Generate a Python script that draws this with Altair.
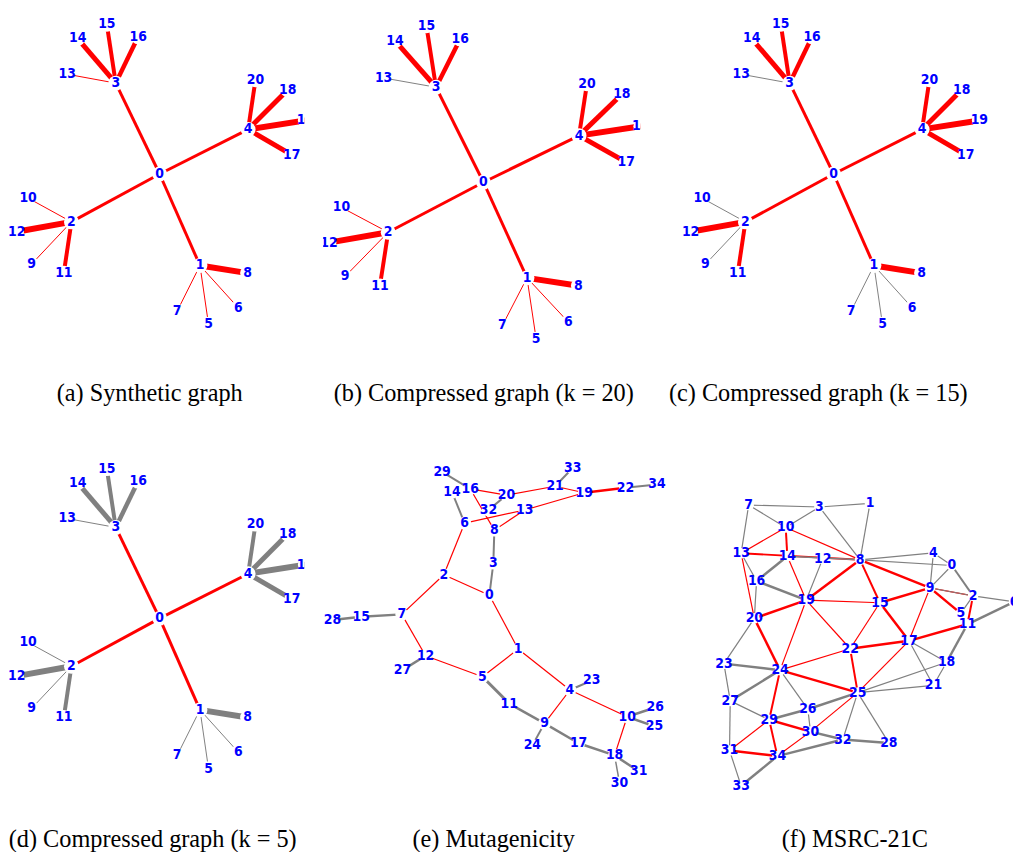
import altair as alt
import pandas as pd

# ---------------- data ----------------
# synthetic tree layout (relative to node 0, y grows downward)
TREE_X = [0, 40.7, -89, -44.3, 89.3, 49.3, 79.3, 17.7, 88.7, -129.3, -132.7,
          -96.7, -144.3, -93.3, -82.7, -53.3, -21.7, 133.3, 129.3, 147, 96.7]
TREE_Y = [0, 92.3, 48.3, -91.7, -45, 151.6, 135, 138.3, 100, 91, 24.3,
          100, 58.3, -100.7, -136.7, -151, -138.4, -19.4, -85, -54, -95]
TREE_EDGES = [(0, 1), (0, 2), (0, 3), (0, 4), (3, 13), (3, 14), (3, 15), (3, 16),
              (4, 20), (4, 18), (4, 19), (4, 17), (2, 10), (2, 12), (2, 9), (2, 11),
              (1, 8), (1, 7), (1, 5), (1, 6)]
TREE_W = [3, 3, 3, 3, 1, 5, 4, 4.5, 4, 5, 6, 5, 1, 6, 1, 4, 6, 1, 1, 1]
B_GRAY = [(3, 13)]
C_GRAY = [(3, 13), (2, 10), (2, 9), (1, 7), (1, 5), (1, 6)]
D_RED = [(0, 1), (0, 2), (0, 3), (0, 4)]

# Mutagenicity molecule layout
E_X = [492.7, 521.7, 446.7, 496.7, 574, 485.7, 467.7, 404.3, 497.7, 548.3, 631.7,
       512.7, 428.3, 528.3, 455, 363.3, 473.3, 582.7, 619, 588.3, 510, 559, 630,
       596, 536, 659.3, 660, 405, 334.3, 445, 624, 643.3, 491.7, 576.7, 661.7]
E_Y = [596.7, 651, 576, 564.3, 692.3, 679, 524, 616, 531, 726, 719.3,
       706, 657.7, 510.7, 492.7, 618.3, 489.3, 746, 758.3, 493.3, 495.7, 486.7, 488.3,
       682.7, 748.3, 729, 710, 672.3, 621.7, 472.3, 786, 774.3, 510.7, 468.3, 485]
E_GRAY = [(29, 16, 2), (14, 6, 2), (20, 32, 2), (21, 33, 2), (22, 34, 2), (8, 3, 2),
          (3, 0, 2), (7, 15, 2.5), (15, 28, 2.5), (12, 27, 2.5), (5, 11, 3), (11, 9, 2.5),
          (9, 24, 2), (9, 17, 2.5), (17, 18, 2.5), (18, 31, 2.5), (18, 30, 1.5),
          (10, 26, 2.5), (10, 25, 2.5), (4, 23, 2)]
E_RED = [(16, 20, 1.2), (20, 21, 1.2), (21, 19, 1.2), (19, 13, 1.2), (6, 13, 1.2),
         (8, 13, 1.2), (16, 8, 1.2), (6, 2, 1.2), (2, 0, 1.2), (2, 7, 1.2), (7, 12, 1.2),
         (12, 5, 1.2), (5, 1, 1.2), (0, 1, 1.2), (1, 4, 1.2), (4, 10, 1.2), (4, 9, 1.2),
         (10, 18, 1.2), (19, 22, 2.5)]

# MSRC-21C superpixel graph layout
F_X = [959.3, 876.7, 980.7, 825.7, 940.7, 968.3, 1022, 754.3, 866.7, 937.3, 791.7,
       975, 829, 746.7, 793.3, 886.7, 762.3, 916, 954, 812.3, 760, 940.7, 856.7,
       729.3, 786, 864.3, 814, 735.7, 895.7, 775, 816.7, 735, 849.3, 746.7, 783.3]
F_Y = [566.7, 504, 597.3, 507.7, 554, 615, 603.3, 505.7, 561, 589.3, 528.3,
       626, 560, 554.3, 557.3, 604.3, 582.3, 642.7, 664.3, 601.7, 620, 687.7, 650.7,
       665.7, 672.3, 695, 711.7, 703.3, 745.7, 722.3, 734.3, 753.3, 742.3, 789, 759]
F_GRAY = [(7, 3, 1.2), (3, 1, 1.2), (7, 10, 1.2), (3, 10, 1.2), (3, 8, 1.2), (1, 8, 1.2),
          (7, 13, 1.2), (13, 16, 1.2), (12, 19, 1.2), (16, 20, 1.2), (8, 4, 1.2),
          (8, 0, 1.2), (4, 0, 1.2), (4, 9, 1.2), (0, 9, 1.2), (2, 6, 1.2), (2, 5, 1.2),
          (18, 21, 1.2), (17, 18, 1.2), (17, 21, 1.2), (18, 25, 1.2), (21, 25, 1.2),
          (20, 23, 1.2), (23, 27, 1.2), (24, 26, 1.2), (27, 29, 1.2), (27, 31, 1.2),
          (26, 30, 1.2), (25, 32, 1.2), (25, 28, 1.2), (31, 33, 1.2),
          (0, 2, 2), (11, 6, 2.5), (11, 18, 2.5), (23, 24, 2.5), (24, 27, 2.5),
          (26, 25, 2.5), (29, 26, 2.5), (30, 32, 2.5), (32, 28, 2.5), (32, 34, 2.5),
          (34, 33, 2.5), (14, 16, 2.5), (16, 19, 2.5)]
F_RED = [(10, 8, 1.2), (10, 13, 1.2), (13, 20, 1.2), (14, 19, 1.2), (19, 15, 1.2),
         (19, 22, 1.2), (19, 24, 1.2), (15, 22, 1.2), (9, 17, 1.2), (17, 25, 1.2),
         (22, 24, 1.2), (29, 31, 1.2), (25, 30, 1.2), (30, 34, 1.2), (9, 2, 1.2),
         (13, 8, 2), (10, 14, 2), (8, 19, 2.5), (8, 15, 2), (8, 9, 2.5), (19, 20, 2.5),
         (15, 9, 2.5), (15, 17, 2.5), (9, 5, 2.5), (2, 11, 2), (11, 17, 2.5),
         (17, 22, 2.5), (22, 25, 2), (20, 24, 2.5), (24, 25, 2.5), (24, 29, 2),
         (29, 30, 2.5), (29, 34, 2), (31, 34, 2.5)]
F_OVER = [(14, 8, 1.5), (9, 2, 1)]  # gray edges overlapping red ones

CAPTIONS = ["(a) Synthetic graph", "(b) Compressed graph (k = 20)",
            "(c) Compressed graph (k = 15)", "(d) Compressed graph (k = 5)",
            "(e) Mutagenicity", "(f) MSRC-21C"]

RED = "#ff0000"
GRAY = "#808080"
LABEL_FONT = "Liberation Sans Narrow, DejaVu Sans Condensed, Noto Sans"


def edge_table(xs, ys, edges):
    rows = []
    for s, t, w, c in edges:
        rows.append({"x1": xs[s], "y1": ys[s], "x2": xs[t], "y2": ys[t], "w": w, "c": c})
    return pd.DataFrame(rows)


def panel(xs, ys, edges, xdom, ydom, width, height, node_size, caption, cap_dx,
          cap_offset, clip=True):
    nodes = pd.DataFrame({"id": [str(i) for i in range(len(xs))], "x": xs, "y": ys})
    edf = edge_table(xs, ys, edges)
    sx = alt.Scale(domain=xdom, nice=False, zero=False)
    sy = alt.Scale(domain=ydom, nice=False, zero=False, reverse=True)
    rules = alt.Chart(edf).mark_rule(clip=clip).encode(
        x=alt.X("x1:Q", scale=sx, axis=None),
        y=alt.Y("y1:Q", scale=sy, axis=None),
        x2="x2:Q", y2="y2:Q",
        color=alt.Color("c:N", scale=None),
        strokeWidth=alt.StrokeWidth("w:Q", scale=None),
    )
    circles = alt.Chart(nodes).mark_circle(
        color="white", opacity=1, size=node_size, clip=clip
    ).encode(
        x=alt.X("x:Q", scale=sx, axis=None),
        y=alt.Y("y:Q", scale=sy, axis=None),
    )
    labels = alt.Chart(nodes).mark_text(
        color="#0000ff", font=LABEL_FONT, fontWeight="bold", fontSize=14, clip=clip
    ).encode(
        x=alt.X("x:Q", scale=sx, axis=None),
        y=alt.Y("y:Q", scale=sy, axis=None),
        text="id:N",
    )
    return alt.layer(rules, circles, labels).properties(
        width=width, height=height,
        title=alt.TitleParams(
            text=caption, orient="bottom", anchor="middle", frame="group",
            offset=cap_offset, dx=cap_dx, baseline="alphabetic",
            font="Liberation Serif", fontSize=24.5, fontWeight="normal", color="black",
        ),
    )


def tree_edges(gray=None, red_only=None):
    out = []
    for (s, t), w in zip(TREE_EDGES, TREE_W):
        if red_only is not None:
            c = RED if (s, t) in red_only else GRAY
        else:
            c = GRAY if (s, t) in (gray or []) else RED
        out.append((s, t, w, c))
    return out


def scaled(vals, f):
    return [v * f for v in vals]


pa = panel(TREE_X, TREE_Y, tree_edges(), [-152, 146], [-163.7, 196.3], 298, 360, 225,
           CAPTIONS[0], -7, 33)
pb = panel(scaled(TREE_X, 1.08), scaled(TREE_Y, 1.045), tree_edges(gray=B_GRAY),
           [-161.7, 158.3], [-172, 188], 320, 360, 225, CAPTIONS[1], 2, 33)
pc = panel(TREE_X, TREE_Y, tree_edges(gray=C_GRAY), [-176, 181], [-163.7, 196.3], 357, 360,
           225, CAPTIONS[2], -18, 33)
pd_ = panel(TREE_X, TREE_Y, tree_edges(red_only=D_RED), [-152, 146], [-164, 196], 298, 360,
            225, CAPTIONS[3], -4, 35)

e_edges = [(s, t, w, GRAY) for s, t, w in E_GRAY] + [(s, t, w, RED) for s, t, w in E_RED]
pe = panel(E_X, E_Y, e_edges, [325, 645], [456, 816], 320, 360, 170, CAPTIONS[4], 12, 35,
           clip=False)

f_edges = ([(s, t, w, GRAY) for s, t, w in F_GRAY] + [(s, t, w, RED) for s, t, w in F_RED]
           + [(s, t, w, GRAY) for s, t, w in F_OVER])
pf = panel(F_X, F_Y, f_edges, [664, 1021], [456, 816], 357, 360, 115, CAPTIONS[5], 19, 35)

chart = alt.concat(
    pa, pb, pc, pd_, pe, pf, columns=3,
    spacing=alt.RowColnumber(row=88, column=19), bounds="flush",
).properties(padding=0).configure_view(stroke=None)

chart.save("out.html", embed_options={"renderer": "svg", "actions": False})
